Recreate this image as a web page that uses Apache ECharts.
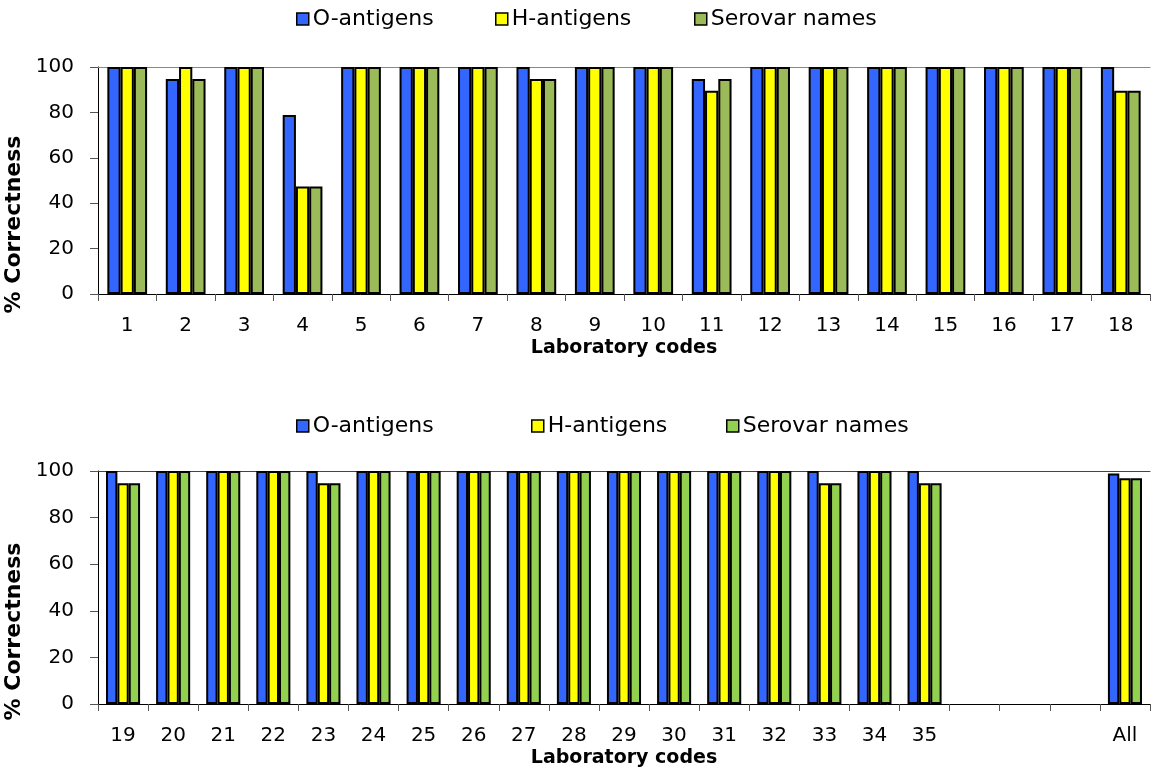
<!DOCTYPE html>
<html lang="en">
<head>
    <meta charset="UTF-8">
    <title>Serotyping correctness</title>
    <script type="text/javascript" src="https://cdn.jsdelivr.net/npm/echarts@6/dist/echarts.min.js"></script>
    <style>
        html, body { margin: 0; padding: 0; background: #fff; }
    </style>
</head>
<body>
<div id="chart" style="width: 1155px;height:777px;"></div>
<script type="text/javascript">
    // laboratories 1-18
    const codesTop = ['1', '2', '3', '4', '5', '6', '7', '8', '9', '10', '11', '12', '13', '14', '15', '16', '17', '18'];
    const oTop = [100, 94.7, 100, 78.9, 100, 100, 100, 100, 100, 100, 94.7, 100, 100, 100, 100, 100, 100, 100];
    const hTop = [100, 100, 100, 47.4, 100, 100, 100, 94.7, 100, 100, 89.5, 100, 100, 100, 100, 100, 100, 89.5];
    const sTop = [100, 94.7, 100, 47.4, 100, 100, 100, 94.7, 100, 100, 94.7, 100, 100, 100, 100, 100, 100, 89.5];

    // laboratories 19-35, three empty slots, then All
    const codesBot = ['19', '20', '21', '22', '23', '24', '25', '26', '27', '28', '29', '30', '31', '32', '33', '34', '35', ' ', '  ', '   ', 'All'];
    const oBot = [100, 100, 100, 100, 100, 100, 100, 100, 100, 100, 100, 100, 100, 100, 100, 100, 100, null, null, null, 98.9];
    const hBot = [94.7, 100, 100, 100, 94.7, 100, 100, 100, 100, 100, 100, 100, 100, 100, 94.7, 100, 94.7, null, null, null, 96.9];
    const sBot = [94.7, 100, 100, 100, 94.7, 100, 100, 100, 100, 100, 100, 100, 100, 100, 94.7, 100, 94.7, null, null, null, 96.9];

    const yTicks = [0, 20, 40, 60, 80, 100];

    const font = 'DejaVu Sans, Verdana, sans-serif';
    const BLUE = '#3366FF', YELLOW = '#FFFF00', GREEN1 = '#9BBB59', GREEN2 = '#92D050';

    // one legend per entry so each box sits where the original has it
    function legendAt(top, left, name, color) {
        return {
            top: top,
            left: left,
            padding: 0,
            icon: 'rect',
            itemWidth: 12,
            itemHeight: 12,
            itemGap: 0,
            selectedMode: false,
            textStyle: {fontFamily: font, fontSize: 22, color: '#000', padding: [0, 0, 0, -1]},
            data: [{name: name, itemStyle: {color: color, borderColor: '#000', borderWidth: 1.5}}]
        };
    }

    function xAxisFor(idx, data) {
        return {
            type: 'category',
            gridIndex: idx,
            data: data,
            name: 'Laboratory codes',
            nameLocation: 'middle',
            nameGap: 45,
            nameTextStyle: {fontFamily: font, fontSize: 19, fontWeight: 'bold', color: '#000'},
            axisLine: {lineStyle: {color: '#000', width: 1}},
            axisTick: {show: true, length: 7, lineStyle: {color: '#555'}},
            axisLabel: {interval: 0, fontFamily: font, fontSize: 20, color: '#000', margin: 22}
        };
    }

    function topLine(idx, data, color) {
        return {
            type: 'category',
            gridIndex: idx,
            data: data,
            position: 'top',
            axisLine: {lineStyle: {color: color, width: 1}},
            axisTick: {show: false},
            axisLabel: {show: false}
        };
    }

    function yAxisFor(idx) {
        return {
            type: 'value',
            gridIndex: idx,
            min: yTicks[0],
            max: yTicks[yTicks.length - 1],
            interval: 20,
            name: '% Correctness',
            nameLocation: 'middle',
            nameGap: 60,
            nameTextStyle: {fontFamily: font, fontSize: 22, fontWeight: 'bold', color: '#000', padding: [0, 88, 0, 0]},
            axisLine: {show: true, lineStyle: {color: '#000', width: 1}},
            axisTick: {show: true, length: 8, lineStyle: {color: '#555'}},
            splitLine: {show: false},
            axisLabel: {fontFamily: font, fontSize: 20, color: '#000', margin: 24}
        };
    }

    function bar(name, data, color, idx) {
        return {
            name: name,
            type: 'bar',
            xAxisIndex: idx,
            yAxisIndex: idx,
            data: data,
            barGap: '0%',
            barCategoryGap: '32%',
            itemStyle: {color: color, borderColor: '#000', borderWidth: 2},
            animation: false
        };
    }

    let option = {
        backgroundColor: '#fff',
        animation: false,
        legend: [
            legendAt(8, 296, 'O-antigens', BLUE),
            legendAt(8, 495, 'H-antigens', YELLOW),
            legendAt(8, 694, 'Serovar names', GREEN1),
            legendAt(415, 296, 'O-antigens', BLUE),
            legendAt(415, 531, 'H-antigens', YELLOW),
            legendAt(415, 726, 'Serovar names', GREEN2)
        ],
        grid: [
            {left: 98, right: 5, top: 67, height: 227, outerBoundsMode: 'none', containLabel: false},
            {left: 98, right: 5, top: 471, height: 233, outerBoundsMode: 'none', containLabel: false}
        ],
        xAxis: [xAxisFor(0, codesTop), xAxisFor(1, codesBot), topLine(0, codesTop, '#888'), topLine(1, codesBot, '#444')],
        yAxis: [yAxisFor(0), yAxisFor(1)],
        series: [
            bar('O-antigens', oTop, BLUE, 0),
            bar('H-antigens', hTop, YELLOW, 0),
            bar('Serovar names', sTop, GREEN1, 0),
            bar('O-antigens', oBot, BLUE, 1),
            bar('H-antigens', hBot, YELLOW, 1),
            bar('Serovar names', sBot, GREEN2, 1)
        ]
    };
    echarts.init(document.getElementById('chart')).setOption(option);
</script>
</body>
</html>
